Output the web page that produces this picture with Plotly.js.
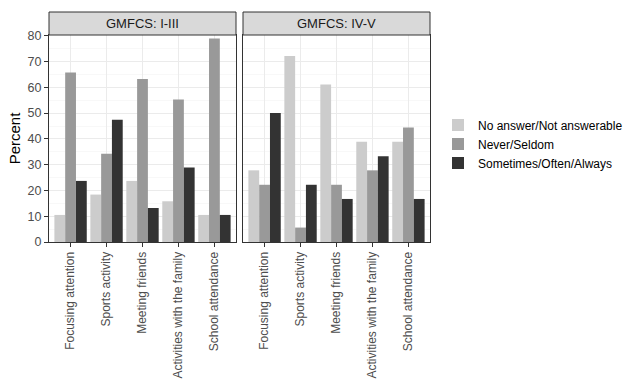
<!DOCTYPE html>
<html><head><meta charset="utf-8">
<script src="https://cdn.plot.ly/plotly-3.0.1.min.js"></script>
<style>html,body{margin:0;padding:0;background:#fff}#chart{width:627px;height:380px}</style>
</head><body><div id="chart"></div>
<script>
const categories = ["Focusing attention","Sports activity","Meeting friends","Activities with the family","School attendance"];
const panels = ["GMFCS: I-III","GMFCS: IV-V"];
const seriesNames = ["No answer/Not answerable","Never/Seldom","Sometimes/Often/Always"];
const seriesColors = ["#cccccc","#999999","#333333"];
// Panel GMFCS: I-III
const p1NoAnswer = [10.5,18.4,23.7,15.8,10.5];
const p1Never    = [65.8,34.2,63.2,55.3,78.9];
const p1Sometimes= [23.7,47.4,13.2,28.9,10.5];
// Panel GMFCS: IV-V
const p2NoAnswer = [27.8,72.2,61.1,38.9,38.9];
const p2Never    = [22.2,5.6,22.2,27.8,44.4];
const p2Sometimes= [50.0,22.2,16.7,33.3,16.7];
const yTicks = [0,10,20,30,40,50,60,70,80];

const p1 = [p1NoAnswer,p1Never,p1Sometimes];
const p2 = [p2NoAnswer,p2Never,p2Sometimes];
const traces = [];
for (let i=0;i<3;i++){
  traces.push({type:'bar',x:categories,y:p1[i],name:seriesNames[i],marker:{color:seriesColors[i]},
    xaxis:'x',yaxis:'y',legendgroup:'g'+i,showlegend:true,hoverinfo:'skip'});
}
for (let i=0;i<3;i++){
  traces.push({type:'bar',x:categories,y:p2[i],name:seriesNames[i],marker:{color:seriesColors[i]},
    xaxis:'x2',yaxis:'y2',legendgroup:'g'+i,showlegend:false,hoverinfo:'skip'});
}
const font = {family:'"Liberation Sans", Arial, sans-serif'};
const xbase = {type:'category',range:[-0.6,4.6],tickangle:-90,ticks:'outside',ticklen:4,tickcolor:'#333333',
  tickfont:{family:font.family,size:12,color:'#4d4d4d'},showgrid:true,gridcolor:'#ebebeb',gridwidth:1,
  showline:true,linecolor:'#333333',linewidth:1,mirror:true,zeroline:false,fixedrange:true};
const ybase = {range:[0,80.3],tickvals:yTicks,ticks:'outside',ticklen:4,tickcolor:'#333333',
  tickfont:{family:font.family,size:12.5,color:'#4d4d4d'},showgrid:true,gridcolor:'#ebebeb',gridwidth:1,
  minor:{dtick:5,showgrid:true,gridcolor:'#f3f3f3',gridwidth:0.6,ticks:''},
  showline:true,linecolor:'#333333',linewidth:1,mirror:true,zeroline:false,fixedrange:true};
const d1 = [0,(236-49)/381], d2 = [(243-49)/381,1];
const stripTop = 1 + 23/207;
const layout = {
  width:627,height:380,margin:{l:49,r:197,t:35,b:138,autoexpand:false},
  paper_bgcolor:'#fff',plot_bgcolor:'#fff',font:font,
  barmode:'group',bargap:0.1,bargroupgap:0,showlegend:true,
  xaxis:Object.assign({},xbase,{domain:d1,anchor:'y'}),
  xaxis2:Object.assign({},xbase,{domain:d2,anchor:'y2'}),
  yaxis:Object.assign({},ybase,{anchor:'x',title:{text:'Percent',font:{family:font.family,size:15,color:'#000'},standoff:3}}),
  yaxis2:Object.assign({},ybase,{anchor:'x2',showticklabels:false,ticks:''}),
  legend:{x:1.021,xanchor:'left',y:0.473,yanchor:'middle',font:{family:font.family,size:12,color:'#000'},
    bgcolor:'rgba(0,0,0,0)',itemwidth:30,tracegroupgap:0},
  shapes:[
    {type:'rect',xref:'paper',yref:'paper',x0:d1[0],x1:d1[1],y0:1,y1:stripTop,fillcolor:'#d9d9d9',line:{color:'#333333',width:1}},
    {type:'rect',xref:'paper',yref:'paper',x0:d2[0],x1:d2[1],y0:1,y1:stripTop,fillcolor:'#d9d9d9',line:{color:'#333333',width:1}}
  ],
  annotations:[
    {xref:'paper',yref:'paper',x:(d1[0]+d1[1])/2,y:(1+stripTop)/2,text:panels[0],showarrow:false,xanchor:'center',yanchor:'middle',font:{family:font.family,size:13,color:'#1a1a1a'}},
    {xref:'paper',yref:'paper',x:(d2[0]+d2[1])/2,y:(1+stripTop)/2,text:panels[1],showarrow:false,xanchor:'center',yanchor:'middle',font:{family:font.family,size:13,color:'#1a1a1a'}}
  ]
};
Plotly.newPlot('chart',traces,layout,{displayModeBar:false,staticPlot:true});
</script></body></html>
